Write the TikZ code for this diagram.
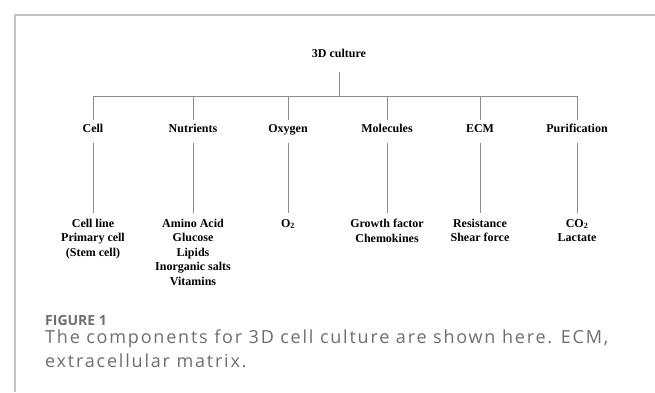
\documentclass[tikz,border=0pt]{standalone}
\usepackage{fontspec}
\setmainfont{Liberation Serif}
\newfontfamily\capfont[LetterSpace=10]{Open Sans}
\newfontfamily\figfont{Open Sans}
\definecolor{linegray}{HTML}{8C8C8C}
\definecolor{framegray}{HTML}{C4C4C4}
\definecolor{capgray}{HTML}{6E6E6E}

\begin{document}
\begin{tikzpicture}[x=1pt, y=-1pt,
  lbl/.style = {font=\fontsize{12}{14.4}\selectfont\bfseries, align=center, inner xsep=0pt},
  cat/.style = {lbl, inner ysep=4pt, text height=8pt, text depth=2pt},
  item/.style = {lbl, anchor=north, inner ysep=6pt},
  leg/.style = {draw=linegray, line width=0.9pt}] 
\useasboundingbox (0,0) rectangle (655,392);
\draw[framegray, line width=1.2pt] (15,392) -- (15,15) -- (655,15);
% root
\node[lbl, inner ysep=13pt, text height=8pt, text depth=2pt] (top) at (339,54) {3D culture};
\coordinate (hub) at (339,96);
\draw[leg] (top) -- (hub);
% components
\node[cat] (cell) at (93,129) {Cell};
\node[cat] (nutr) at (193,129) {Nutrients};
\node[cat] (oxy) at (288,129) {Oxygen};
\node[cat] (mol) at (387,129) {Molecules};
\node[cat] (ecm) at (480,129) {ECM};
\node[cat] (puri) at (577,129) {Purification};
% items
\node[item] (cellx) at (93,213) {Cell line\\Primary cell\\(Stem cell)};
\node[item] (nutrx) at (193,213) {Amino Acid\\Glucose\\Lipids\\Inorganic salts\\Vitamins};
\node[item] (oxyx) at (288,213) {O\textsubscript{2}};
\node[item] (molx) at (387,213) {Growth factor\\Chemokines};
\node[item] (ecmx) at (480,213) {Resistance\\Shear force};
\node[item] (purix) at (577,213) {CO\textsubscript{2}\\Lactate};
\foreach \c in {cell,nutr,oxy,mol,ecm,puri} {
  \draw[leg] (hub) -| (\c);
  \draw[leg, shorten <=5pt] (\c) -- (\c x);
}
% caption
\node[anchor=west, inner sep=0pt, text=capgray, font=\figfont\bfseries\fontsize{14}{16}\selectfont] (fig) at (45,320) {FIGURE 1};
\node[anchor=north west, inner sep=0pt, align=left, text=capgray, font=\capfont\fontsize{18}{24}\selectfont] (caption) at (45,330) {The components for 3D cell culture are shown here. ECM,\\extracellular matrix.};
\end{tikzpicture}
\end{document}
